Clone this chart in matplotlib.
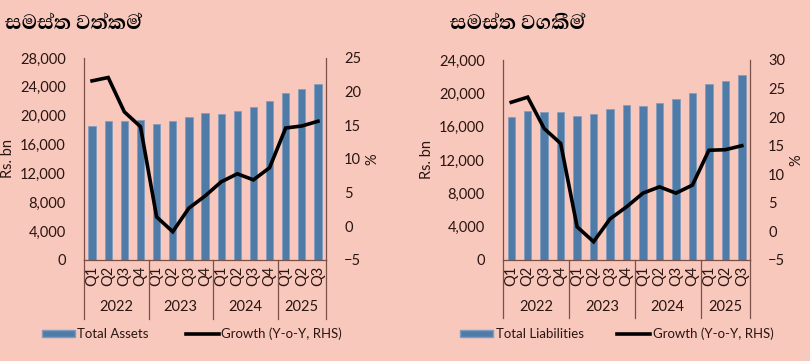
import matplotlib.pyplot as plt
from matplotlib.patches import Patch
from matplotlib.lines import Line2D
import matplotlib.transforms as mtransforms

quarters = ["Q1", "Q2", "Q3", "Q4"] * 3 + ["Q1", "Q2", "Q3"]
years = ["2022", "2023", "2024", "2025"]

assets = [18600, 19300, 19300, 19400, 18900, 19200, 19800, 20400,
          20300, 20700, 21200, 22100, 23200, 23700, 24400]
assets_growth = [21.6, 22.1, 17.0, 14.8, 1.4, -0.8, 2.7, 4.5,
                 6.6, 7.8, 6.9, 8.7, 14.6, 14.9, 15.6]

liabilities = [17200, 17900, 17800, 17800, 17300, 17500, 18100, 18600,
               18500, 18800, 19300, 20000, 21100, 21500, 22200]
liab_growth = [22.6, 23.5, 18.0, 15.4, 0.8, -1.8, 2.2, 4.3,
               6.7, 7.8, 6.7, 8.1, 14.2, 14.3, 15.0]

bg = "#F8C8BD"
bar_col = "#4F7BA8"
txt = "#2a1510"
spine_col = "#7a5048"

plt.rcParams['font.family'] = ['Lato', 'DejaVu Sans']
plt.rcParams['font.size'] = 10
title_fonts = ['Abhaya Libre', 'Noto Sans Sinhala', 'DejaVu Sans']

fig = plt.figure(figsize=(8.1, 3.61), dpi=100, facecolor=bg)


def panel(rect, vals, growth, ymax, ystep, rmin, rmax, title, title_x, bar_label, leg_x, colsp):
    ax = fig.add_axes(rect)
    ax.set_facecolor("none")
    x = list(range(len(vals)))
    ax.bar(x, vals, width=0.45, color=bar_col, edgecolor="#7d9cc0", linewidth=0.5)
    ax.set_xlim(-0.5, len(vals) - 0.5)
    ax.set_ylim(0, ymax)
    ax.set_yticks(range(0, ymax + 1, ystep))
    ax.set_yticklabels([f"{v:,}" for v in range(0, ymax + 1, ystep)])
    ax.set_xticks(x)
    ax.set_xticklabels(quarters, rotation=90)
    ax.tick_params(axis="both", length=0, colors=txt, labelsize=10.5)
    ax.tick_params(axis="y", pad=13)
    ax.tick_params(axis="x", pad=4)
    for s in ["top", "right"]:
        ax.spines[s].set_visible(False)
    for s in ["left", "bottom"]:
        ax.spines[s].set_color(spine_col)
        ax.spines[s].set_linewidth(0.9)
    ax.set_ylabel("Rs. bn", color=txt, fontsize=10.5, labelpad=4)

    ax2 = ax.twinx()
    ax2.plot(x, growth, color="black", linewidth=2.6, solid_joinstyle="miter")
    ax2.set_ylim(rmin, rmax)
    ax2.set_yticks(range(rmin, rmax + 1, 5))
    ax2.tick_params(axis="y", length=0, colors=txt, labelsize=10.5, pad=13)
    for s in ["top", "left", "bottom"]:
        ax2.spines[s].set_visible(False)
    ax2.spines["right"].set_color(spine_col)
    ax2.spines["right"].set_linewidth(0.9)
    ax2.set_ylabel("%", color=txt, fontsize=10.5, labelpad=3)

    # year separators and labels
    tr = mtransforms.blended_transform_factory(ax.transData, ax.transAxes)
    for sx in [-0.5, 3.5, 7.5, 11.5, len(vals) - 0.5]:
        ax.plot([sx, sx], [0, -0.29], transform=tr, color=spine_col,
                linewidth=0.9, clip_on=False)
    for yx, yl in zip([1.5, 5.5, 9.5, 13.0], years):
        ax.text(yx, -0.235, yl, transform=tr, ha="center", va="center",
                color=txt, fontsize=10.5)

    fig.text(title_x, 0.935, title, fontsize=18.5, fontweight="heavy", color="black",
             ha="left", va="center", family=title_fonts)

    handles = [Patch(facecolor=bar_col, edgecolor="#7d9cc0"),
               Line2D([0], [0], color="black", linewidth=2.6)]
    fig.legend(handles, [bar_label, "Growth (Y-o-Y, RHS)"], loc="center left",
               bbox_to_anchor=(leg_x, 0.075), ncol=2, frameon=False,
               handlelength=2.5, handleheight=0.5, handletextpad=0.2,
               columnspacing=colsp, fontsize=9.5, labelcolor=txt, borderaxespad=0)


panel([0.1037, 0.2798, 0.2988, 0.5596], assets, assets_growth, 28000, 4000, -5, 25,
      "සමස්ත වත්කම්", 0.006, "Total Assets", 0.045, 2.8)
panel([0.621, 0.2798, 0.305, 0.554], liabilities, liab_growth, 24000, 4000, -5, 30,
      "සමස්ත වගකීම්", 0.555, "Total Liabilities", 0.562, 2.5)

fig.savefig("out.png", dpi=100, facecolor=bg)
